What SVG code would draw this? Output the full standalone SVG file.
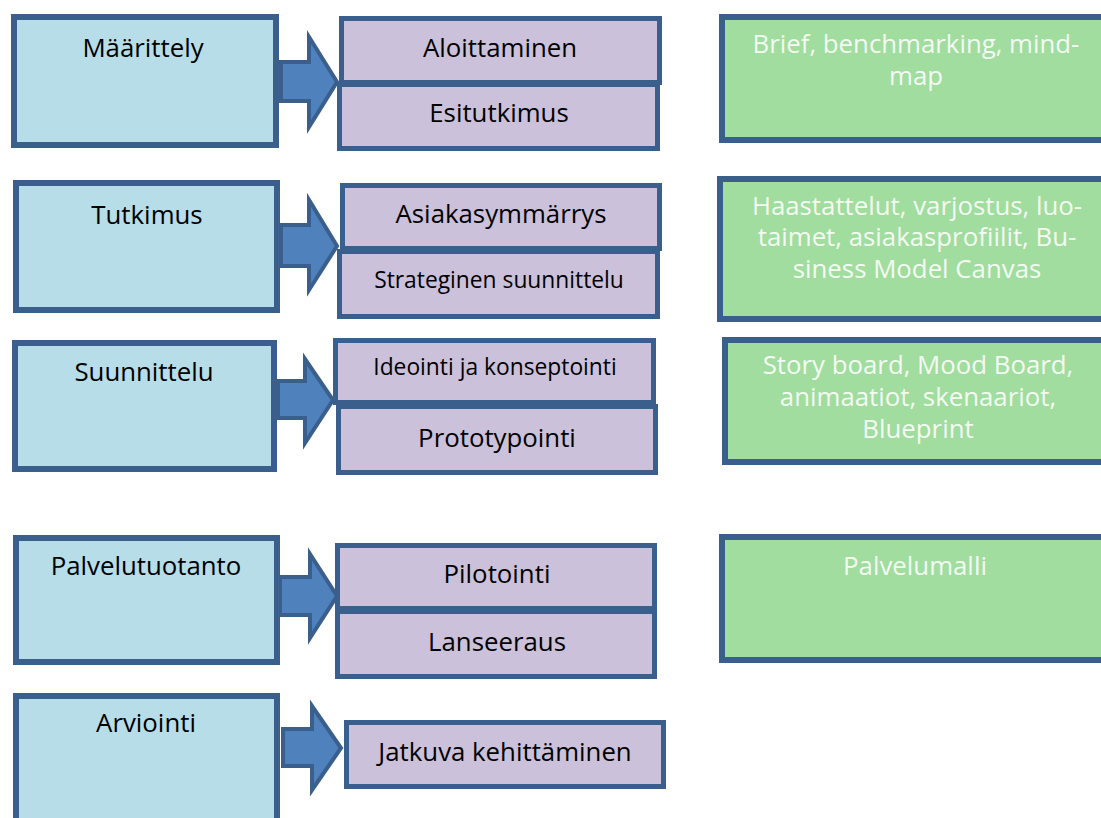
<svg xmlns="http://www.w3.org/2000/svg" width="1101" height="818" viewBox="0 0 1101 818">
  <style>
    .phase rect { fill: #b7dde8; stroke: #3a5f8c; stroke-width: 6; }
    .step rect { fill: #ccc1da; stroke: #3a5f8c; stroke-width: 5; }
    .tool rect { fill: #a0dd9e; stroke: #3a5f8c; stroke-width: 6; }
    text { font-family: "Open Sans", "Noto Sans", "DejaVu Sans", sans-serif; font-size: 25.8px; text-anchor: middle; fill: #000; }
    text.small { font-size: 22.8px; }
    .tool text { fill: #f4fbf2; }
    .arrows polygon { fill: #4f81bd; stroke: #3a5f8c; stroke-width: 4; stroke-linejoin: miter; }
  </style>

  <!-- phase column -->
  <g id="maarittely" class="phase">
    <rect x="14" y="17" width="262" height="128"/>
    <text x="143" y="57">Määrittely</text>
  </g>
  <g id="tutkimus" class="phase">
    <rect x="16" y="183" width="261" height="127"/>
    <text x="147" y="224">Tutkimus</text>
  </g>
  <g id="suunnittelu" class="phase">
    <rect x="15" y="343" width="259" height="126"/>
    <text x="144" y="381">Suunnittelu</text>
  </g>
  <g id="palvelutuotanto" class="phase">
    <rect x="16" y="538" width="261" height="124"/>
    <text x="146" y="575">Palvelutuotanto</text>
  </g>
  <g id="arviointi" class="phase">
    <rect x="16" y="696" width="261" height="140"/>
    <text x="146" y="732">Arviointi</text>
  </g>

  <!-- step column -->
  <g id="esitutkimus" class="step">
    <rect x="339.5" y="84.5" width="318" height="64"/>
    <text x="499" y="122">Esitutkimus</text>
  </g>
  <g id="aloittaminen" class="step">
    <rect x="341.5" y="18.5" width="318" height="64"/>
    <text x="500" y="57">Aloittaminen</text>
  </g>
  <g id="strateginen-suunnittelu" class="step">
    <rect x="339.5" y="251.5" width="318" height="65"/>
    <text class="small" x="499" y="288">Strateginen suunnittelu</text>
  </g>
  <g id="asiakasymmarrys" class="step">
    <rect x="342.5" y="185.5" width="317" height="63"/>
    <text x="501" y="223">Asiakasymmärrys</text>
  </g>
  <g id="prototypointi" class="step">
    <rect x="338.5" y="406.5" width="317" height="66"/>
    <text x="497" y="447">Prototypointi</text>
  </g>
  <g id="ideointi" class="step">
    <rect x="335.5" y="340.5" width="318" height="62"/>
    <text class="small" x="495" y="375">Ideointi ja konseptointi</text>
  </g>
  <g id="lanseeraus" class="step">
    <rect x="337.5" y="611.5" width="317" height="65"/>
    <text x="497" y="651">Lanseeraus</text>
  </g>
  <g id="pilotointi" class="step">
    <rect x="337.5" y="545.5" width="317" height="63"/>
    <text x="497" y="583">Pilotointi</text>
  </g>
  <g id="jatkuva-kehittaminen" class="step">
    <rect x="346.5" y="722.5" width="317" height="64"/>
    <text x="505" y="761">Jatkuva kehittäminen</text>
  </g>

  <!-- tools column -->
  <g id="tools-maarittely" class="tool">
    <rect x="722" y="17" width="400" height="123"/>
    <text x="916" y="53">Brief, benchmarking, mind-</text>
    <text x="916" y="85">map</text>
  </g>
  <g id="tools-tutkimus" class="tool">
    <rect x="720" y="179" width="400" height="140"/>
    <text x="917" y="215">Haastattelut, varjostus, luo-</text>
    <text x="917" y="246">taimet, asiakasprofiilit, Bu-</text>
    <text x="917" y="278">siness Model Canvas</text>
  </g>
  <g id="tools-suunnittelu" class="tool">
    <rect x="725" y="340" width="400" height="122"/>
    <text x="918" y="374">Story board, Mood Board,</text>
    <text x="918" y="406">animaatiot, skenaariot,</text>
    <text x="918" y="438">Blueprint</text>
  </g>
  <g id="tools-palvelutuotanto" class="tool">
    <rect x="722" y="537" width="400" height="123"/>
    <text x="915" y="575">Palvelumalli</text>
  </g>

  <!-- block arrows from phases to steps -->
  <g id="connectors" class="arrows">
    <polygon points="281,62 309,62 309,37 337,82 309,127 309,101 281,101"/>
    <polygon points="281,225 309,225 309,200 337,246 309,290 309,266 281,266"/>
    <polygon points="278,381 305,381 305,359 333,400 305,443 305,418 278,418"/>
    <polygon points="280,577 310,577 310,554 337,596 310,638 310,615 280,615"/>
    <polygon points="283,729 312,729 312,706 341,748 312,790 312,766 283,766"/>
  </g>
</svg>
